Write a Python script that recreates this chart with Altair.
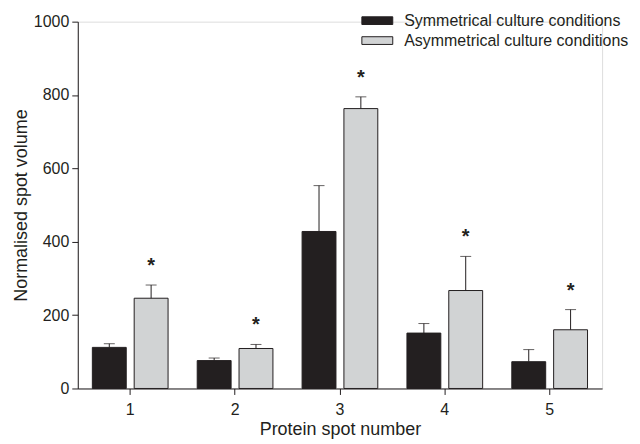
import altair as alt
import pandas as pd

spots = ["1", "2", "3", "4", "5"]
conditions = ["Symmetrical culture conditions", "Asymmetrical culture conditions"]
sym_values = [112, 76, 428, 151, 73]
sym_err_top = [122, 83, 553, 177, 106]
asym_values = [246, 109, 763, 267, 160]
asym_err_top = [282, 120, 795, 360, 215]
asym_significant = [True, True, True, True, True]

rows = []
for i, s in enumerate(spots):
    rows.append({"spot": s, "condition": conditions[0], "value": sym_values[i],
                 "err": sym_err_top[i], "star": ""})
    rows.append({"spot": s, "condition": conditions[1], "value": asym_values[i],
                 "err": asym_err_top[i], "star": "*" if asym_significant[i] else ""})
df = pd.DataFrame(rows)

FONT = "Liberation Sans"
INK = "#231f20"

x_enc = alt.X("spot:N", sort=spots, title="Protein spot number",
              scale=alt.Scale(paddingInner=0.278, paddingOuter=0.139),
              axis=alt.Axis(labelAngle=0, labelFontSize=16, titleFontSize=18,
                            tickSize=6, labelPadding=7, titleY=46,
                            titleBaseline="alphabetic",
                            domainColor=INK, tickColor=INK, labelColor=INK, titleColor=INK,
                            titleFontWeight="normal", labelFont=FONT, titleFont=FONT))
xoff = alt.XOffset("condition:N", sort=conditions,
                   scale=alt.Scale(paddingInner=0.19, paddingOuter=0))
y_scale = alt.Scale(domain=[0, 1000], nice=False)

base = alt.Chart(df)

bars = base.mark_bar(stroke=INK, strokeWidth=1).encode(
    x=x_enc,
    xOffset=xoff,
    y=alt.Y("value:Q", scale=y_scale, title="Normalised spot volume",
            axis=alt.Axis(values=[0, 200, 400, 600, 800, 1000], grid=False, format="d",
                          labelFontSize=16, titleFontSize=18, tickSize=6,
                          labelPadding=3, titleX=-56, titleY=184,
                          titleBaseline="middle", titleAngle=270,
                          domainColor=INK, tickColor=INK, labelColor=INK, titleColor=INK,
                          titleFontWeight="normal", labelFont=FONT, titleFont=FONT)),
    color=alt.Color("condition:N", sort=conditions,
                    scale=alt.Scale(domain=conditions, range=[INK, "#d1d3d4"]),
                    legend=alt.Legend(title=None, orient="none", legendX=292, legendY=-9.5,
                                      symbolType="M-2,-0.5L2,-0.5L2,0.5L-2,0.5Z",
                                      symbolSize=240, symbolStrokeColor=INK,
                                      symbolStrokeWidth=1, labelFontSize=16,
                                      labelFont=FONT, labelColor=INK, labelOffset=18.5,
                                      rowPadding=3, padding=0, labelLimit=400)),
)

err_line = base.mark_rule(color=INK, strokeWidth=1).encode(
    x=x_enc, xOffset=xoff, y=alt.Y("value:Q", scale=y_scale), y2="err:Q")

err_cap = base.mark_tick(color=INK, thickness=1, size=11).encode(
    x=x_enc, xOffset=xoff, y=alt.Y("err:Q", scale=y_scale))

stars = base.mark_text(font=FONT, fontSize=20, fontWeight="bold", color=INK,
                       baseline="alphabetic", dy=-13).encode(
    x=x_enc, xOffset=xoff, y=alt.Y("err:Q", scale=y_scale), text="star:N")

chart = alt.layer(bars, err_line, err_cap, stars).properties(
    width=526, height=368,
    autosize=alt.AutoSizeParams(type="none"),
    padding={"left": 70, "top": 13, "right": 30, "bottom": 50},
).configure_view(stroke=None).configure(font=FONT)

chart.save("out.html", embed_options={"renderer": "svg", "actions": False})
